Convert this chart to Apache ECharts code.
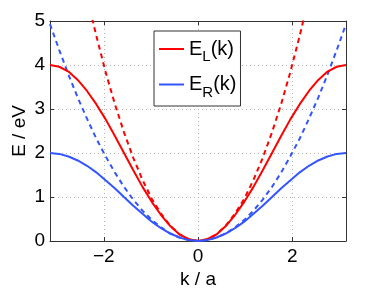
<!DOCTYPE html>
<html><head><meta charset="utf-8">
<script src="https://cdn.jsdelivr.net/npm/echarts@6/dist/echarts.min.js"></script>
<style>html,body{margin:0;padding:0;background:#fff}#c{width:382px;height:288px}</style>
</head><body><div id="c"></div>
<script>
var kValues = [-3.142,-2.945,-2.749,-2.553,-2.356,-2.160,-1.963,-1.767,-1.571,-1.374,-1.178,-0.982,-0.785,-0.589,-0.393,-0.196,0,
  0.196,0.393,0.589,0.785,0.982,1.178,1.374,1.571,1.767,1.963,2.160,2.356,2.553,2.749,2.945,3.142];
var eLeft = [4.00,3.96,3.85,3.66,3.41,3.11,2.77,2.39,2.00,1.61,1.23,0.89,0.59,0.34,0.15,0.04,0,
  0.04,0.15,0.34,0.59,0.89,1.23,1.61,2.00,2.39,2.77,3.11,3.41,3.66,3.85,3.96,4.00];
var eRight = [2.00,1.98,1.92,1.83,1.71,1.56,1.38,1.20,1.00,0.80,0.62,0.44,0.29,0.17,0.08,0.02,0,
  0.02,0.08,0.17,0.29,0.44,0.62,0.80,1.00,1.20,1.38,1.56,1.71,1.83,1.92,1.98,2.00];
var eLeftFree = [9.87,8.67,7.56,6.52,5.55,4.67,3.85,3.12,2.47,1.89,1.39,0.96,0.62,0.35,0.15,0.04,0,
  0.04,0.15,0.35,0.62,0.96,1.39,1.89,2.47,3.12,3.85,4.67,5.55,6.52,7.56,8.67,9.87];
var eRightFree = [4.93,4.34,3.78,3.26,2.78,2.33,1.93,1.56,1.23,0.94,0.69,0.48,0.31,0.17,0.08,0.02,0,
  0.02,0.08,0.17,0.31,0.48,0.69,0.94,1.23,1.56,1.93,2.33,2.78,3.26,3.78,4.34,4.93];
var xTicks = [-2, 0, 2];
var yTicks = [0, 1, 2, 3, 4, 5];

function pairs(ys){ return kValues.map(function(k,i){ return [k, ys[i]]; }); }
var RED = '#ff0000', BLUE = '#3355ff';
var font = 'Liberation Sans, Arial, sans-serif';
var chart = echarts.init(document.getElementById('c'), null, {renderer:'canvas'});
var line = {show:true, onZero:false, lineStyle:{color:'#333', width:1}};
var grid = {show:true, lineStyle:{color:'#b4b4b4', type:[1,3], width:1}};
function xTick(){ return {show:true, inside:true, length:4, lineStyle:{color:'#333'}, customValues:xTicks}; }
function yTick(){ return {show:true, inside:true, length:4, lineStyle:{color:'#333'}, customValues:yTicks}; }
chart.setOption({
  animation:false,
  backgroundColor:'#fff',
  grid:{left:50, right:36, top:21, bottom:47, show:false, containLabel:false, outerBoundsMode:'none'},
  legend:{
    data:['E_L(k)','E_R(k)'],
    orient:'vertical', left:154, top:31,
    backgroundColor:'#fff', borderColor:'#333', borderWidth:1,
    padding:[8,4,6,5], itemGap:10,
    icon:'rect', itemWidth:25, itemHeight:2,
    formatter:function(n){ return n==='E_L(k)' ? '{a|E}{s|L}{a|(k)}' : '{a|E}{s|R}{a|(k)}'; },
    textStyle:{ fontFamily:font, color:'#000',
      rich:{ a:{fontSize:20, fontFamily:font, color:'#000'},
             s:{fontSize:15, fontFamily:font, color:'#000', verticalAlign:'bottom', padding:[16,0,0,0]} } }
  },
  xAxis:[{
    type:'value', min:-Math.PI, max:Math.PI, position:'bottom',
    name:'k / a', nameLocation:'middle', nameGap:29, nameMoveOverlap:false,
    nameTextStyle:{fontFamily:font, fontSize:19, color:'#000', verticalAlign:'top'},
    axisLine:line, axisTick:xTick(),
    axisLabel:{fontFamily:font, fontSize:19, color:'#000', margin:6, customValues:xTicks,
      formatter:function(v){ return v<0 ? '\u2212'+Math.abs(v) : String(v); }},
    splitLine:grid,
  },{
    type:'value', min:-Math.PI, max:Math.PI, position:'top',
    axisLine:line, axisTick:xTick(),
    axisLabel:{show:false}, splitLine:{show:false}
  }],
  yAxis:[{
    type:'value', min:0, max:5, interval:1, position:'left',
    name:'E / eV', nameLocation:'middle', nameGap:21, nameRotate:90, nameMoveOverlap:false,
    nameTextStyle:{fontFamily:font, fontSize:19, color:'#000', verticalAlign:'bottom'},
    axisLine:line, axisTick:yTick(),
    axisLabel:{fontFamily:font, fontSize:19, color:'#000', margin:5},
    splitLine:grid,
  },{
    type:'value', min:0, max:5, interval:1, position:'right',
    axisLine:line, axisTick:yTick(),
    axisLabel:{show:false}, splitLine:{show:false}
  }],
  series:[
    {name:'E_L(k)', type:'line', data:pairs(eLeft), showSymbol:false, lineStyle:{color:RED, width:2}, itemStyle:{color:RED}, z:3},
    {name:'E_R(k)', type:'line', data:pairs(eRight), showSymbol:false, lineStyle:{color:BLUE, width:2}, itemStyle:{color:BLUE}, z:3},
    {name:'free L', type:'line', data:pairs(eLeftFree), showSymbol:false, clip:true, lineStyle:{color:RED, width:2, type:[5,4]}, itemStyle:{color:RED}, z:2},
    {name:'free R', type:'line', data:pairs(eRightFree), showSymbol:false, clip:true, lineStyle:{color:BLUE, width:2, type:[5,4]}, itemStyle:{color:BLUE}, z:2}
  ]
});
</script></body></html>
